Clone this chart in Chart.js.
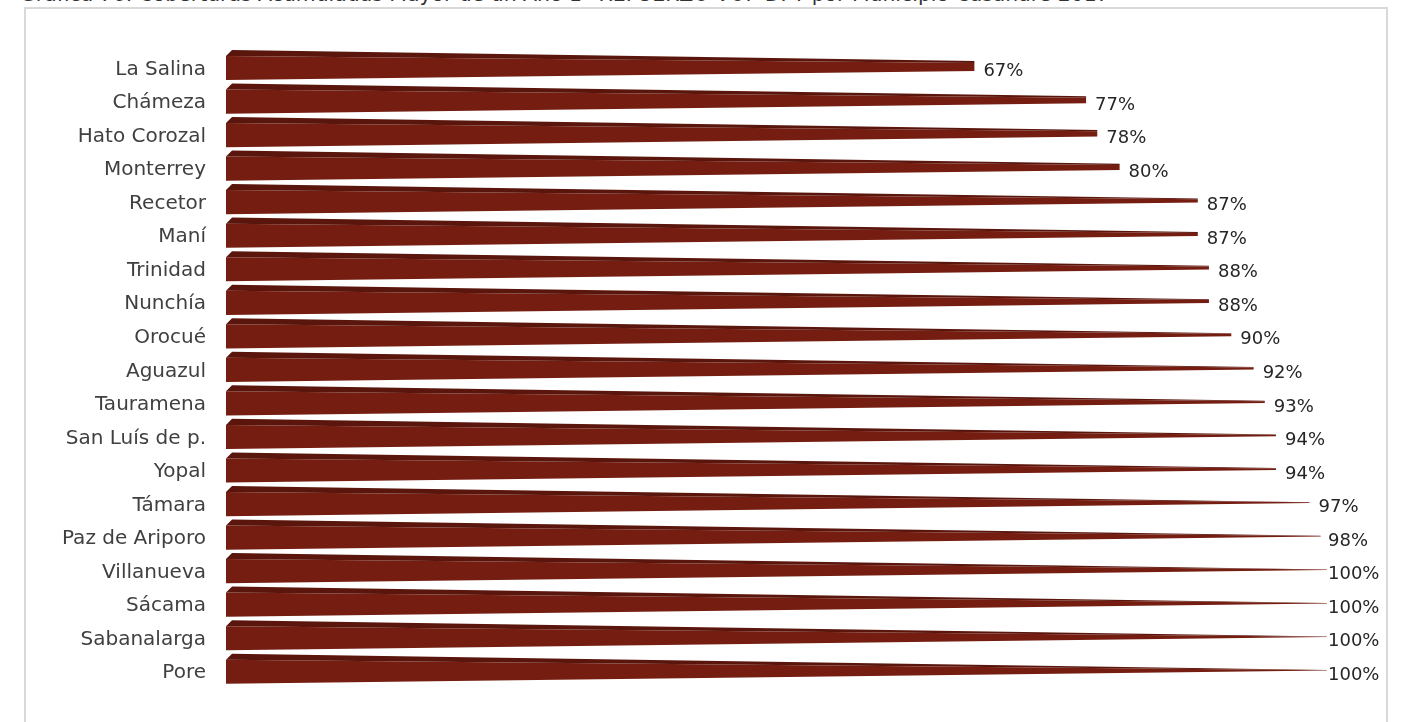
<!DOCTYPE html>
<html>
<head>
<meta charset="utf-8">
<script src="https://cdn.jsdelivr.net/npm/chart.js@4.4.0/dist/chart.umd.min.js"></script>
<style>
  html, body { margin: 0; padding: 0; background: #fff; overflow: hidden; }
  body { width: 1402px; height: 722px; position: relative; }
  #title {
    position: absolute; left: 20px; top: -18px; white-space: nowrap;
    font-family: 'DejaVu Sans', sans-serif; font-size: 20.4px; line-height: 24px; color: #333;
  }
  #frame {
    position: absolute; left: 24px; top: 7px; width: 1360px; height: 740px;
    border: 2px solid #d9d9d9;
  }
  #wrap { position: absolute; left: 0; top: 0; width: 1402px; height: 722px; }
</style>
</head>
<body>
<div id="title">Gráfica 76. Coberturas Acumuladas Mayor de un Año 1° REFUERZO VOP-DPT por Municipio Casanare 2017</div>
<div id="frame"></div>
<div id="wrap"><canvas id="myChart" width="1402" height="722"></canvas></div>
<script>
const municipios = ['La Salina', 'Chámeza', 'Hato Corozal', 'Monterrey', 'Recetor', 'Maní',
  'Trinidad', 'Nunchía', 'Orocué', 'Aguazul', 'Tauramena', 'San Luís de p.', 'Yopal',
  'Támara', 'Paz de Ariporo', 'Villanueva', 'Sácama', 'Sabanalarga', 'Pore']
const coberturas = [67, 77, 78, 80, 87, 87, 88, 88, 90, 92, 93, 94, 94, 97, 98, 100, 100, 100, 100]

const frontColor = '#741d10'
const topColor = '#5a160c'

// draws each bar as a truncated pyramid pointing at 100%
const pyramidBars = {
  id: 'pyramidBars',
  afterDatasetsDraw(chart) {
    const ctx = chart.ctx
    const xs = chart.scales.x
    const meta = chart.getDatasetMeta(0)
    const base = xs.getPixelForValue(0)
    const apex = xs.getPixelForValue(100)
    meta.data.forEach((bar, i) => {
      const c = bar.y
      const h = bar.height
      const top = c - h * 0.56
      const bot = c + h * 0.44
      const depth = h * 0.25
      const tipY = c - h * 0.12
      const lx = Math.min(bar.x + 9, 1328)
      const end = Math.min(bar.x, lx - 1)
      ctx.save()
      ctx.beginPath()
      ctx.rect(base - 1, top - depth - 2, end - base + 1, h + depth + 4)
      ctx.clip()
      // front face
      ctx.beginPath()
      ctx.moveTo(base, top)
      ctx.lineTo(base, bot)
      ctx.lineTo(apex, tipY)
      ctx.closePath()
      ctx.fillStyle = frontColor
      ctx.fill()
      // top face
      ctx.beginPath()
      ctx.moveTo(base, top)
      ctx.lineTo(base + depth, top - depth)
      ctx.lineTo(apex, tipY)
      ctx.closePath()
      ctx.fillStyle = topColor
      ctx.fill()
      ctx.restore()

      // value label
      ctx.save()
      ctx.font = '18px "DejaVu Sans"'
      ctx.fillStyle = '#262626'
      ctx.textBaseline = 'middle'
      ctx.textAlign = 'left'
      ctx.fillText(coberturas[i] + '%', lx, c + 2)
      ctx.restore()
    })
  }
}

const ctx = document.getElementById('myChart').getContext('2d')
new Chart(ctx, {
  type: 'bar',
  data: {
    labels: municipios,
    datasets: [{
      data: coberturas,
      backgroundColor: 'rgba(0,0,0,0)',
      barPercentage: 1,
      categoryPercentage: 0.72,
    }],
  },
  options: {
    indexAxis: 'y',
    responsive: false,
    animation: false,
    layout: { padding: { top: 52.7, bottom: 30.9, left: 0, right: 59 } },
    plugins: { legend: { display: false }, tooltip: { enabled: false } },
    scales: {
      x: { min: 0, max: 100, display: false },
      y: {
        grid: { display: false, drawTicks: false },
        border: { display: false },
        afterFit(axis) { axis.width = 226 },
        ticks: {
          padding: 20,
          color: '#404040',
          font: { family: 'DejaVu Sans', size: 20 },
        },
      },
    },
  },
  plugins: [pyramidBars],
})
</script>
</body>
</html>
